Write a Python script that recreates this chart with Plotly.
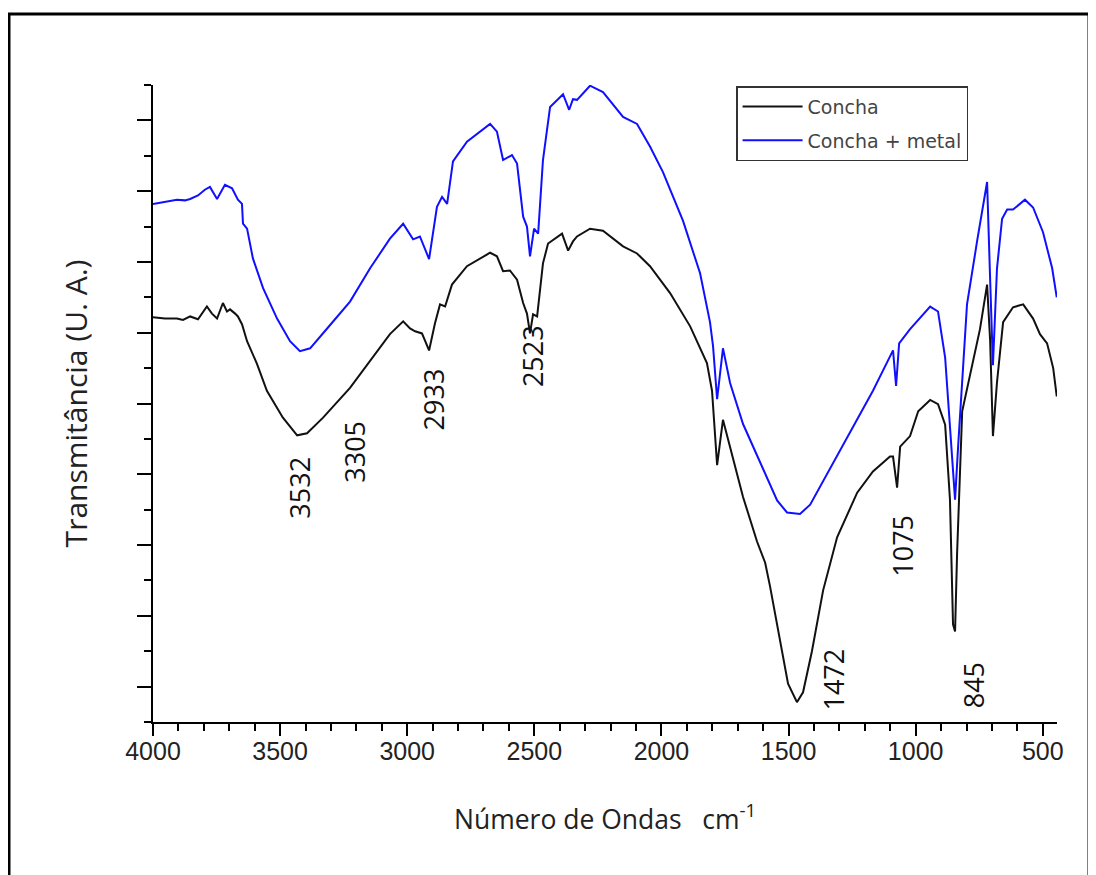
import plotly.graph_objects as go

# ---- data (wavenumber cm-1, transmittance arbitrary units) ----
concha_wn = [4000, 3953, 3906, 3882, 3854, 3823, 3788, 3768, 3748, 3725, 3709, 3697, 3677, 3666,
             3650, 3638, 3630, 3591, 3552, 3489, 3433, 3394, 3331, 3225, 3146, 3068, 3016, 2989,
             2969, 2942, 2914, 2891, 2871, 2851, 2824, 2765, 2674, 2647, 2623, 2596, 2568, 2544,
             2529, 2517, 2505, 2489, 2466, 2446, 2391, 2367, 2348, 2332, 2281, 2230, 2151, 2096,
             2045, 1966, 1887, 1821, 1801, 1781, 1758, 1730, 1679, 1624, 1592, 1573, 1533, 1502,
             1467, 1443, 1408, 1364, 1309, 1230, 1168, 1101, 1089, 1073, 1061, 1022, 990, 943,
             912, 884, 865, 853, 845, 837, 817, 786, 747, 719, 707, 696, 680, 656, 617, 577, 538,
             511, 483, 459, 445]
concha_t = [5.72, 5.70, 5.70, 5.68, 5.73, 5.69, 5.87, 5.77, 5.70, 5.92, 5.80, 5.83, 5.77, 5.73,
            5.62, 5.49, 5.38, 5.06, 4.68, 4.30, 4.05, 4.08, 4.30, 4.72, 5.10, 5.48, 5.66, 5.56,
            5.52, 5.49, 5.25, 5.63, 5.90, 5.87, 6.18, 6.44, 6.63, 6.58, 6.37, 6.38, 6.25, 5.92,
            5.77, 5.49, 5.76, 5.73, 6.48, 6.76, 6.90, 6.66, 6.79, 6.86, 6.97, 6.94, 6.72, 6.62,
            6.44, 6.06, 5.59, 5.07, 4.68, 3.63, 4.27, 3.87, 3.18, 2.55, 2.25, 1.92, 1.11, 0.54,
            0.28, 0.42, 1.00, 1.86, 2.61, 3.24, 3.54, 3.75, 3.75, 3.31, 3.89, 4.04, 4.39, 4.55,
            4.49, 4.20, 3.14, 1.38, 1.28, 2.38, 4.39, 4.90, 5.55, 6.18, 5.39, 4.04, 4.80, 5.65,
            5.86, 5.90, 5.70, 5.48, 5.35, 5.00, 4.60]

metal_wn = [4000, 3953, 3906, 3874, 3854, 3823, 3796, 3776, 3748, 3717, 3689, 3666, 3650, 3646,
            3630, 3607, 3567, 3512, 3461, 3422, 3382, 3315, 3225, 3146, 3068, 3016, 2977, 2950,
            2914, 2883, 2863, 2843, 2820, 2765, 2674, 2647, 2623, 2588, 2568, 2544, 2529, 2517,
            2501, 2485, 2466, 2438, 2387, 2363, 2348, 2332, 2281, 2230, 2151, 2096, 2045, 1994,
            1915, 1848, 1809, 1797, 1781, 1758, 1730, 1679, 1624, 1585, 1545, 1506, 1455, 1415,
            1337, 1258, 1211, 1168, 1089, 1077, 1065, 1022, 943, 912, 884, 865, 845, 833, 798,
            758, 719, 707, 696, 680, 660, 640, 617, 570, 538, 499, 463, 445]
metal_t = [7.32, 7.35, 7.38, 7.37, 7.39, 7.44, 7.52, 7.56, 7.39, 7.59, 7.54, 7.38, 7.32, 7.04,
           6.97, 6.55, 6.13, 5.70, 5.38, 5.24, 5.28, 5.56, 5.94, 6.41, 6.83, 7.04, 6.82, 6.86,
           6.54, 7.28, 7.42, 7.32, 7.92, 8.20, 8.45, 8.34, 7.94, 8.01, 7.89, 7.14, 7.00, 6.58,
           6.97, 6.90, 7.94, 8.69, 8.87, 8.65, 8.80, 8.79, 8.99, 8.90, 8.55, 8.45, 8.13, 7.77,
           7.08, 6.34, 5.65, 5.31, 4.56, 5.28, 4.79, 4.21, 3.76, 3.46, 3.13, 2.96, 2.94, 3.07,
           3.58, 4.10, 4.39, 4.68, 5.25, 4.75, 5.35, 5.55, 5.87, 5.80, 5.15, 4.14, 3.14, 3.89,
           5.90, 6.80, 7.63, 6.25, 5.04, 6.41, 7.11, 7.24, 7.24, 7.38, 7.27, 6.92, 6.41, 6.00]

series_names = ["Concha", "Concha + metal"]
series_colors = ["#111111", "#1010ff"]

peak_labels = ["3532", "3305", "2933", "2523", "1472", "1075", "845"]
peak_label_wn = [3422, 3205, 2898, 2509, 1325, 1050, 774]
peak_label_t = [3.31, 3.82, 4.56, 5.17, 0.60, 2.49, 0.52]

x_tick_vals = [4000, 3500, 3000, 2500, 2000, 1500, 1000, 500]
x_tick_text = ["4000", "3500", "3000", "2500", "2000", "1500", "1000", "500"]

x_title = "\u00a0\u00a0\u00a0Número de Ondas\u00a0\u00a0 cm<sup>-1</sup>"
y_title = "Transmitância (U. A.)"

fig = go.Figure()
for name, wn, t, col, grp in [(series_names[0], concha_wn, concha_t, series_colors[0], "a"),
                              (series_names[1], metal_wn, metal_t, series_colors[1], "b")]:
    fig.add_trace(go.Scatter(x=wn, y=t, mode="lines", name=name, legendgroup=grp,
                             line=dict(color=col, width=2)))

for lab, xw, yt in zip(peak_labels, peak_label_wn, peak_label_t):
    fig.add_annotation(x=xw, y=yt, text=lab, textangle=-90, showarrow=False,
                       font=dict(family="Open Sans", size=27, color="#111111"),
                       xanchor="center", yanchor="middle")

# outer frame
fig.add_shape(type="rect", xref="paper", yref="paper",
              x0=-0.1593, x1=1.0354, y0=-0.25, y1=1.1115,
              line=dict(color="black", width=3), fillcolor="rgba(0,0,0,0)", layer="below")
# small extension of the x axis line to the left of the y axis
fig.add_shape(type="line", xref="paper", yref="paper", x0=-0.009, x1=0, y0=0, y1=0,
              line=dict(color="black", width=2))

fig.update_layout(
    width=1088, height=867,
    margin=dict(l=145, r=39, t=77, b=153),
    paper_bgcolor="white", plot_bgcolor="white",
    showlegend=True,
    legend=dict(x=0.645, y=0.998, xanchor="left", yanchor="top",
                bgcolor="white", bordercolor="#333333", borderwidth=1.5,
                font=dict(family="DejaVu Sans", size=19, color="#444444"),
                traceorder="grouped", tracegroupgap=6, itemwidth=60),
)

fig.update_xaxes(
    range=[4000, 444], autorange=False,
    tickmode="array", tickvals=x_tick_vals, ticktext=x_tick_text,
    ticks="outside", ticklen=12, tickwidth=2, tickcolor="black",
    ticklabelstandoff=-6,
    minor=dict(dtick=100, tick0=0, ticklen=7, tickwidth=2, tickcolor="black", showgrid=False),
    showline=True, linecolor="black", linewidth=2, showgrid=False, zeroline=False,
    tickfont=dict(family="Liberation Sans", size=25, color="#222222"),
    title=dict(text=x_title, font=dict(family="Open Sans", size=26.5, color="#222222"), standoff=46),
)
fig.update_yaxes(
    range=[0, 9], autorange=False,
    tickmode="linear", tick0=0.5, dtick=1,
    ticks="outside", ticklen=14, tickwidth=2, tickcolor="black",
    minor=dict(dtick=0.5, tick0=0, ticklen=7, tickwidth=2, tickcolor="black", showgrid=False),
    showticklabels=False,
    showline=True, linecolor="black", linewidth=2, showgrid=False, zeroline=False,
    title=dict(text=y_title, font=dict(family="Open Sans", size=30, color="#222222"), standoff=41),
)

fig.write_html("out.html")
